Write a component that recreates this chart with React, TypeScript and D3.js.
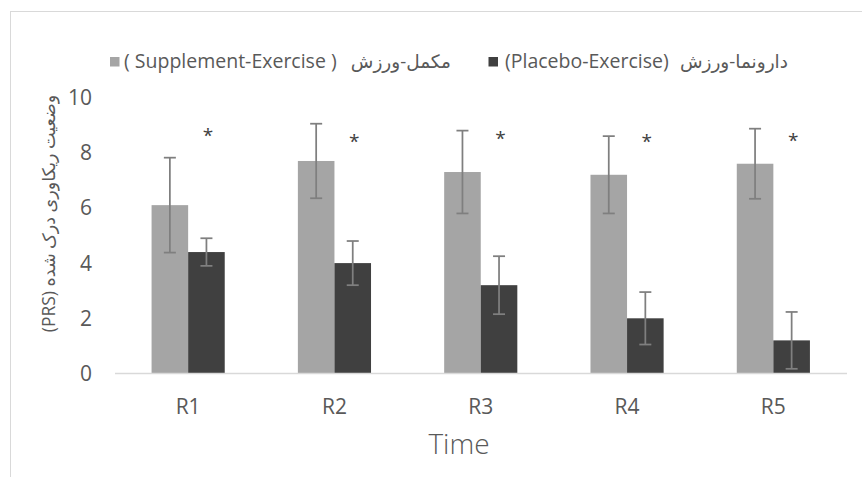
import * as d3 from 'd3';

const categories = ['R1', 'R2', 'R3', 'R4', 'R5'];
const seriesKeys = ['supplement', 'placebo'];
const supplementMean = [6.1, 7.7, 7.3, 7.2, 7.6];
const supplementErr = [1.72, 1.35, 1.5, 1.4, 1.27];
const placeboMean = [4.4, 4.0, 3.2, 2.0, 1.2];
const placeboErr = [0.5, 0.8, 1.05, 0.95, 1.03];
// where the significance stars sit (in y units), over the placebo bar
const starLevel = [8.8, 8.57, 8.68, 8.58, 8.61];
const yTicks = [0, 2, 4, 6, 8, 10];

const W = 862;
const H = 477;
const FONT = "'Open Sans', 'DejaVu Sans', sans-serif";
const TEXT = '#595959';
const COLORS: Record<string, string> = { supplement: '#a5a5a5', placebo: '#404040' };

export default function App() {
  const x = d3.scaleBand<string>().domain(categories).range([115, 846.5]).paddingInner(0.5).paddingOuter(0.25);
  const xs = d3.scaleBand<string>().domain(seriesKeys).range([0, x.bandwidth()]);
  const y = d3.scaleLinear().domain([0, 10]).range([373.5, 97.5]);

  const rows = categories.map((c, i) => ({
    cat: c,
    bars: [
      { key: 'supplement', mean: supplementMean[i], err: supplementErr[i] },
      { key: 'placebo', mean: placeboMean[i], err: placeboErr[i] },
    ],
    star: starLevel[i],
  }));

  return (
    <svg width={W} height={H} style={{ position: 'absolute', left: 0, top: 0, background: '#fff' }} fontFamily={FONT}>
      <rect x={10.5} y={11.5} width={W + 40} height={H + 40} fill="none" stroke="#d9d9d9" strokeWidth={1} />

      {/* legend */}
      <rect x={110} y={57} width={9.5} height={9.5} fill={COLORS.supplement} />
      <text x={124} y={68} fontSize={19.5} fill={TEXT} style={{ whiteSpace: 'pre' }}>( Supplement-Exercise )</text>
      <text x={451} y={68} fontSize={18.5} fill={TEXT} textAnchor="end">مکمل-ورزش</text>
      <rect x={488.5} y={57} width={9.5} height={9.5} fill={COLORS.placebo} />
      <text x={505} y={68} fontSize={19.5} fill={TEXT}>(Placebo-Exercise)</text>
      <text x={788} y={68} fontSize={18.5} fill={TEXT} textAnchor="end">دارونما-ورزش</text>

      {/* y axis labels */}
      {yTicks.map((t) => (
        <text key={t} x={92} y={y(t)} dy="0.36em" textAnchor="end" fontSize={21} fill={TEXT}>{t}</text>
      ))}
      <text transform="translate(49,213.5) rotate(-90)" textAnchor="middle" dy="0.35em" fontSize={17.5} fill={TEXT}>
        (PRS) وضعیت ریکاوری درک شده
      </text>

      {/* bars */}
      {rows.map((r) => (
        <g key={r.cat} transform={`translate(${x(r.cat)},0)`}>
          {r.bars.map((b) => (
            <rect key={b.key} x={xs(b.key)} y={y(b.mean)} width={xs.bandwidth()} height={y(0) - y(b.mean)}
              fill={COLORS[b.key]} />
          ))}
        </g>
      ))}

      {/* axis line */}
      <line x1={115} x2={847} y1={373.5} y2={373.5} stroke="#d9d9d9" strokeWidth={1.5} />

      {/* error bars */}
      {rows.map((r) => (
        <g key={r.cat} transform={`translate(${x(r.cat)},0)`} stroke="#7f7f7f" strokeWidth={1.75}>
          {r.bars.map((b) => {
            const cx = xs(b.key)! + xs.bandwidth() / 2;
            return (
              <g key={b.key}>
                <line x1={cx} x2={cx} y1={y(b.mean + b.err)} y2={y(b.mean - b.err)} />
                <line x1={cx - 6} x2={cx + 6} y1={y(b.mean + b.err)} y2={y(b.mean + b.err)} />
                <line x1={cx - 6} x2={cx + 6} y1={y(b.mean - b.err)} y2={y(b.mean - b.err)} />
              </g>
            );
          })}
        </g>
      ))}

      {/* significance stars */}
      {rows.map((r) => (
        <text key={r.cat} x={x(r.cat)! + xs('placebo')! + xs.bandwidth() / 2 + 1.5} y={y(r.star)} dy="0.58em"
          textAnchor="middle" fontSize={19} fill="#404040">*</text>
      ))}

      {/* x axis labels */}
      {categories.map((c) => (
        <text key={c} x={x(c)! + x.bandwidth() / 2} y={413.5} textAnchor="middle" fontSize={21} fill={TEXT}>{c}</text>
      ))}
      <text x={459} y={454} textAnchor="middle" fontSize={28} fontWeight={300} fill={TEXT}>Time</text>
    </svg>
  );
}
